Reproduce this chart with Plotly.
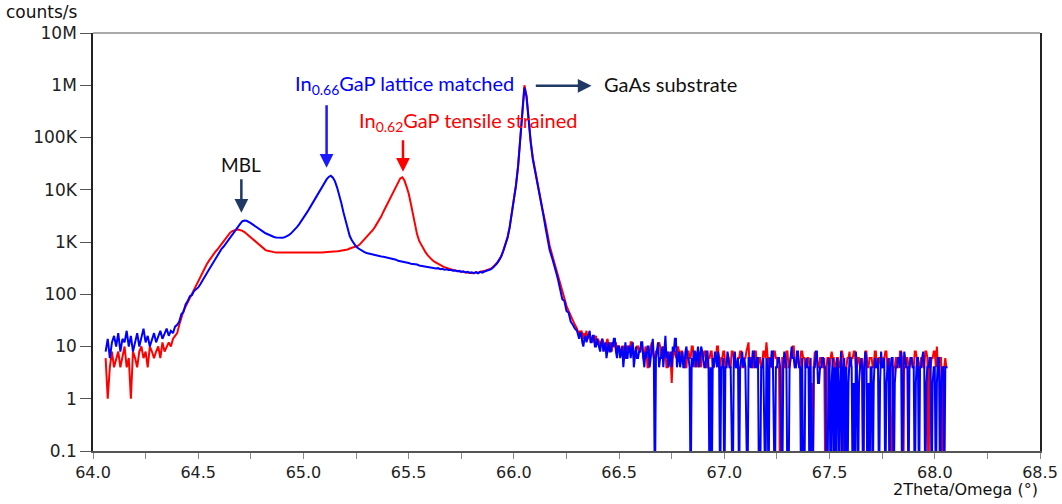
import plotly.graph_objects as go

# ---- data: 2Theta/Omega scan, counts/s ----
# main part sampled every 0.01 deg from 64.06 to 66.29
main_start, main_step = 64.06, 0.01
# tail sampled every 0.005 deg from 66.30 to 68.06
tail_start, tail_step = 66.30, 0.005

blue_main = [
    8, 14, 6, 12,                                                   # 64.06
    16, 10, 18, 8, 14, 12, 20, 10, 16, 8,                           # 64.10
    12, 18, 10, 14, 22, 12, 16, 10, 14, 18,                         # 64.20
    12, 16, 20, 14, 18, 22, 16, 20, 18, 24,                         # 64.30
    26, 30, 42, 46, 64, 74, 92, 96, 115, 125,                       # 64.40
    135, 155, 185, 215, 250, 290, 340, 400, 480, 560,               # 64.50
    650, 730, 810, 920, 1050, 1220, 1400, 1580, 1780, 2000,         # 64.60
    2250, 2500, 2580, 2550, 2450, 2300, 2150, 2000, 1880, 1760,     # 64.70
    1660, 1560, 1470, 1400, 1340, 1290, 1250, 1220, 1200, 1190,     # 64.80
    1200, 1230, 1280, 1350, 1450, 1580, 1750, 1950, 2200, 2500,     # 64.90
    2850, 3300, 3850, 4500, 5300, 6200, 7200, 8400, 10000, 11800,   # 65.00
    13800, 15800, 17600, 18600, 17000, 14500, 11000, 8000, 5600, 3700,  # 65.10
    2500, 1750, 1300, 1080, 920, 820, 760, 710, 670, 640,           # 65.20
    615, 600, 585, 575, 560, 548, 540, 528, 522, 512,               # 65.30
    500, 482, 486, 462, 458, 436, 430, 418, 414, 400,               # 65.40
    398, 384, 382, 368, 370, 356, 350, 348, 338, 336,               # 65.50
    332, 320, 322, 312, 316, 302, 306, 296, 300, 290,               # 65.60
    292, 282, 286, 276, 280, 268, 274, 262, 268, 258,               # 65.70
    264, 254, 266, 252, 268, 258, 272, 278, 288, 298,               # 65.80
    320, 350, 390, 450, 530, 680, 880, 1200, 1900, 3300,            # 65.90
    6000, 12000, 28000, 90000, 420000, 900000, 600000, 200000, 80000, 38000,  # 66.00
    24000, 14000, 8200, 5200, 3300, 1900, 1050, 700, 520, 390,      # 66.10
    270, 190, 125, 80, 74, 48, 44, 30, 26, 22,                      # 66.20
]

blue_tail = [
    20, 16, 14, 18, 18, 12, 10, 14, 16, 12, 14, 18, 20, 12, 12, 16, 16, 10, 10, 14,  # 66.30
    12, 10, 8, 12, 14, 8, 10, 12, 6, 10, 12, 8, 8, 12, 10, 14, 14, 8, 6, 10,         # 66.40
    10, 6, 8, 10, 4, 8, 12, 6, 6, 10, 10, 6, 8, 12, 4, 6, 10, 6, 6, 8,               # 66.50
    8, 12, 12, 6, 4, 8, 6, 10, 10, 4, 6, 8, 14, 6, 0, 6, 8, 12, 4, 6,                # 66.60
    6, 10, 4, 8, 16, 6, 8, 4, 6, 8, 4, 10, 8, 14, 14, 4, 6, 8, 4, 6,                 # 66.70
    8, 4, 4, 8, 10, 6, 6, 4, 0, 6, 4, 8, 8, 4, 6, 10, 4, 6, 10, 8,                   # 66.80
    6, 4, 4, 8, 8, 4, 0, 4, 0, 6, 4, 8, 6, 4, 8, 6, 0, 4, 4, 6,                      # 66.90
    0, 4, 4, 8, 6, 4, 4, 0, 0, 6, 8, 4, 4, 6, 0, 4, 6, 8, 4, 6,                      # 67.00
    4, 0, 0, 6, 6, 4, 4, 8, 8, 4, 4, 6, 6, 0, 0, 4, 4, 6, 0, 0,                      # 67.10
    6, 4, 0, 6, 4, 8, 8, 0, 0, 4, 4, 6, 6, 4, 0, 0, 4, 8, 6, 4,                      # 67.20
    0, 0, 4, 8, 10, 6, 6, 4, 4, 8, 8, 4, 4, 0, 6, 0, 0, 4, 6, 4,                     # 67.30
    4, 0, 6, 0, 0, 4, 4, 8, 8, 2, 2, 4, 4, 6, 6, 4, 4, 0, 0, 6,                      # 67.40
    4, 0, 2, 6, 0, 4, 0, 6, 4, 0, 2, 8, 0, 4, 6, 0, 4, 0, 2, 6,                      # 67.50
    6, 4, 0, 2, 0, 8, 4, 0, 2, 4, 6, 4, 0, 4, 8, 6, 0, 2, 0, 4,                      # 67.60
    4, 0, 2, 6, 4, 4, 6, 0, 2, 8, 4, 4, 6, 0, 2, 4, 6, 0, 4, 6,                      # 67.70
    6, 0, 2, 4, 4, 6, 6, 4, 8, 0, 2, 8, 6, 4, 4, 0, 4, 6, 6, 4,                      # 67.80
    4, 0, 2, 6, 6, 0, 4, 4, 6, 8, 4, 0, 2, 4, 4, 6, 6, 0, 2, 4,                      # 67.90
    4, 0, 2, 6, 6, 0, 2, 4, 4, 0, 4, 4, 4,                                           # 68.00
]

red_main = [
    6, 1, 4, 8,                                                     # 64.06
    4, 6, 8, 4, 6, 10, 4, 6, 1, 8,                                  # 64.10
    6, 4, 8, 10, 6, 8, 4, 10, 8, 6,                                 # 64.20
    8, 10, 6, 12, 8, 10, 12, 10, 14, 16,                            # 64.30
    18, 26, 36, 48, 58, 70, 86, 104, 125, 150,                      # 64.40
    180, 215, 260, 310, 370, 430, 500, 570, 640, 710,               # 64.50
    800, 900, 1050, 1200, 1350, 1480, 1600, 1680, 1720, 1730,       # 64.60
    1690, 1630, 1550, 1430, 1330, 1230, 1130, 1030, 950, 870,       # 64.70
    800, 740, 700, 680, 660, 650, 640, 630, 630, 625,               # 64.80
    620, 625, 618, 622, 615, 620, 618, 625, 620, 622,               # 64.90
    625, 620, 628, 622, 630, 626, 632, 628, 635, 630,               # 65.00
    638, 640, 645, 648, 655, 660, 668, 675, 685, 695,               # 65.10
    700, 720, 750, 770, 790, 810, 850, 920, 1020, 1130,             # 65.20
    1240, 1380, 1500, 1700, 1950, 2250, 2600, 3100, 3800, 4600,     # 65.30
    5500, 6600, 7800, 9400, 11500, 14000, 16500, 17300, 15000, 11500,  # 65.40
    8500, 5500, 3400, 2100, 1400, 1050, 880, 740, 640, 560,         # 65.50
    500, 460, 425, 400, 380, 360, 345, 330, 318, 308,               # 65.60
    300, 292, 286, 280, 274, 268, 264, 260, 256, 254,               # 65.70
    256, 252, 262, 258, 270, 272, 278, 290, 296, 308,               # 65.80
    330, 360, 400, 460, 540, 690, 900, 1250, 1950, 3400,            # 65.90
    6200, 12500, 29000, 95000, 440000, 1000000, 640000, 210000, 84000, 41000,  # 66.00
    25000, 14500, 8500, 5400, 3500, 2300, 1350, 850, 600, 430,      # 66.10
    300, 210, 145, 105, 80, 60, 48, 38, 32, 26,                     # 66.20
]

red_tail = [
    22, 18, 20, 16, 20, 18, 14, 18, 16, 20, 14, 16, 18, 12, 14, 16, 12, 14, 16, 12,  # 66.30
    14, 12, 10, 12, 14, 12, 10, 8, 12, 14, 10, 12, 10, 8, 12, 10, 10, 12, 8, 10,     # 66.40
    10, 8, 8, 10, 10, 6, 6, 10, 10, 8, 8, 12, 12, 8, 6, 8, 8, 10, 10, 8,             # 66.50
    8, 12, 10, 6, 6, 10, 8, 4, 4, 8, 10, 12, 8, 6, 6, 8, 8, 10, 12, 10,              # 66.60
    6, 8, 10, 8, 8, 4, 4, 8, 6, 6, 2, 6, 8, 8, 6, 8, 10, 8, 6, 8,                    # 66.70
    8, 6, 6, 4, 4, 8, 8, 6, 6, 10, 10, 6, 4, 8, 6, 4, 8, 6, 4, 8,                    # 66.80
    6, 8, 8, 4, 4, 6, 6, 8, 8, 4, 4, 6, 6, 10, 10, 4, 4, 6, 6, 8,                    # 66.90
    8, 4, 4, 6, 6, 4, 4, 8, 8, 6, 6, 4, 4, 6, 6, 8, 8, 4, 4, 6,                      # 67.00
    6, 8, 10, 12, 4, 6, 6, 4, 4, 8, 8, 4, 4, 6, 6, 4, 4, 8, 8, 6,                    # 67.10
    12, 6, 4, 6, 6, 4, 4, 8, 8, 6, 6, 4, 4, 0, 0, 6, 6, 4, 4, 8,                     # 67.20
    8, 4, 4, 6, 6, 10, 10, 4, 4, 6, 6, 4, 4, 8, 8, 6, 6, 4, 4, 6,                    # 67.30
    6, 4, 0, 2, 0, 4, 8, 6, 6, 4, 4, 6, 6, 4, 4, 6, 0, 4, 6, 6,                      # 67.40
    4, 6, 8, 6, 6, 4, 4, 6, 6, 4, 4, 8, 8, 6, 0, 4, 4, 6, 6, 8,                      # 67.50
    4, 6, 6, 8, 8, 4, 4, 6, 6, 4, 4, 6, 0, 4, 8, 8, 4, 4, 6, 6,                      # 67.60
    6, 4, 4, 8, 8, 4, 4, 6, 6, 4, 4, 6, 6, 8, 8, 4, 4, 6, 0, 0,                      # 67.70
    2, 4, 4, 6, 6, 4, 4, 8, 8, 6, 0, 4, 4, 6, 6, 4, 4, 6, 6, 4,                      # 67.80
    4, 8, 8, 6, 6, 4, 4, 6, 6, 4, 4, 8, 8, 6, 0, 4, 4, 6, 6, 8,                      # 67.90
    8, 4, 10, 4, 4, 6, 6, 0, 4, 4, 6, 4, 4,                                          # 68.00
]

y_tickvals = [0.1, 1, 10, 100, 1e3, 1e4, 1e5, 1e6, 1e7]
y_ticktext = ["0.1", "1", "10", "100", "1K", "10K", "100K", "1M", "10M"]

ZERO_FLOOR = 0.01  # zero counts are drawn down past the bottom of the log axis


def series_xy(main_vals, tail_vals):
    x = [round(main_start + i * main_step, 4) for i in range(len(main_vals))]
    x += [round(tail_start + i * tail_step, 4) for i in range(len(tail_vals))]
    y = [v if v > 0 else ZERO_FLOOR for v in list(main_vals) + list(tail_vals)]
    return x, y


rx, ry = series_xy(red_main, red_tail)
bx, by = series_xy(blue_main, blue_tail)

fig = go.Figure()
fig.add_trace(go.Scatter(x=rx, y=ry, mode="lines",
                         line=dict(color="#ff0000", width=2), name="In0.62GaP"))
fig.add_trace(go.Scatter(x=bx, y=by, mode="lines",
                         line=dict(color="#0000ff", width=2), name="In0.66GaP"))

sans = "DejaVu Sans, Liberation Sans, Arial"
tick_font = dict(family=sans, size=16, color="#222")
ytick_font = dict(family=sans, size=17, color="#222")
ann_font = "Lato, Open Sans, sans-serif"
navy = "#1f3864"

fig.update_layout(
    width=1062, height=504,
    autosize=False,
    margin=dict(l=93, r=22, t=33, b=53, autoexpand=False),
    plot_bgcolor="white", paper_bgcolor="white",
    showlegend=False,
    xaxis=dict(range=[64, 68.5], tick0=64, dtick=0.5, tickformat=".1f",
               automargin=False,
               ticks="outside", ticklen=6, tickcolor="#888", tickwidth=1,
               showline=True, linecolor="#555", linewidth=1.5,
               showgrid=False, zeroline=False, tickfont=tick_font,
               minor=dict(dtick=0.25, ticks="outside", ticklen=6, tickcolor="#888")),
    yaxis=dict(type="log", range=[-1, 7], tickvals=y_tickvals, ticktext=y_ticktext,
               automargin=False,
               ticks="outside", ticklen=11, tickcolor="#555", tickwidth=1,
               showline=True, linecolor="#222", linewidth=1.5, mirror=True,
               showgrid=False, zeroline=False, tickfont=ytick_font),
    shapes=[dict(type="line", xref="paper", yref="paper", x0=0, x1=1, y0=1, y1=1,
                 line=dict(color="#aaaaaa", width=2))],
)

annotations = [
    # axis titles
    dict(text="counts/s", xref="paper", yref="paper", x=-0.094, y=1.05,
         xanchor="left", yanchor="middle", showarrow=False,
         font=dict(family=sans, size=17, color="#111")),
    dict(text="2Theta/Omega (°)", xref="paper", yref="paper", x=1.0, y=-0.093,
         xanchor="right", yanchor="middle", showarrow=False,
         font=dict(family=sans, size=16, color="#111")),
    # labels
    dict(text="MBL", x=64.705, y=4.478, xref="x", yref="y", showarrow=False,
         font=dict(family=ann_font, size=19, color="#111")),
    dict(text="In<sub>0.66</sub>GaP lattice matched", x=65.482, y=6.01, xref="x", yref="y",
         showarrow=False, font=dict(family=ann_font, size=20, color="#0000ff")),
    dict(text="In<sub>0.62</sub>GaP tensile strained", x=65.783, y=5.30, xref="x", yref="y",
         showarrow=False, font=dict(family=ann_font, size=20, color="#ff0000")),
    dict(text="GaAs substrate", x=66.421, y=6.03, xref="x", yref="y", xanchor="left",
         showarrow=False, font=dict(family=ann_font, size=20, color="#111")),
    # arrows
    dict(text="", x=64.705, y=3.56, ax=64.705, ay=4.23, xref="x", yref="y",
         axref="x", ayref="y", showarrow=True, arrowhead=2, arrowsize=1.1,
         arrowwidth=2.5, arrowcolor=navy),
    dict(text="", x=65.11, y=4.42, ax=65.11, ay=5.646, xref="x", yref="y",
         axref="x", ayref="y", showarrow=True, arrowhead=2, arrowsize=1.1,
         arrowwidth=2.5, arrowcolor="#1a1aff"),
    dict(text="", x=65.473, y=4.345, ax=65.473, ay=4.976, xref="x", yref="y",
         axref="x", ayref="y", showarrow=True, arrowhead=2, arrowsize=1.1,
         arrowwidth=2.5, arrowcolor="#ff0000"),
    dict(text="", x=66.369, y=5.99, ax=66.097, ay=5.99, xref="x", yref="y",
         axref="x", ayref="y", showarrow=True, arrowhead=2, arrowsize=1.1,
         arrowwidth=2.5, arrowcolor=navy),
]
fig.update_layout(annotations=annotations)

fig.write_html("out.html", config={"displayModeBar": False},
               post_script="document.body.style.margin='0';document.body.style.overflow='hidden';")
